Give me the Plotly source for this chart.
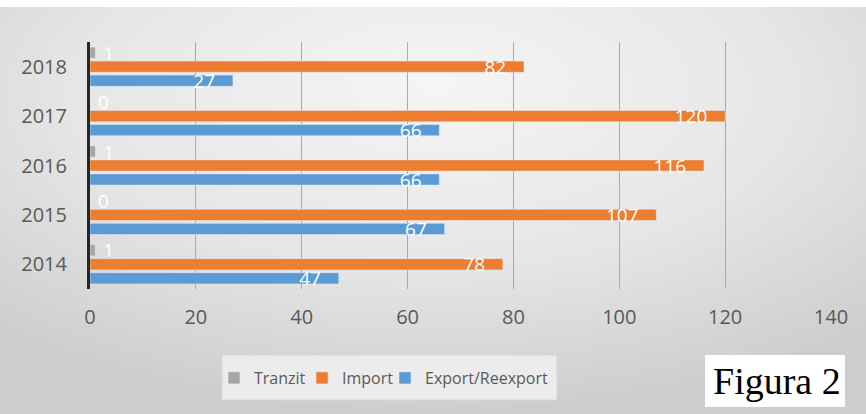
import base64
import plotly.graph_objects as go

years = ["2014", "2015", "2016", "2017", "2018"]
tranzit = [1, 0, 1, 0, 1]
import_vals = [78, 107, 116, 120, 82]
export_vals = [47, 67, 66, 66, 27]
x_ticks = [0, 20, 40, 60, 80, 100, 120, 140]

W, H = 866, 414
L, R, T, B = 90, 35, 42, 125
PW, PH = W - L - R, H - T - B


def px(x):
    return (x - L) / PW


def py(y):
    return (H - B - y) / PH


svg = f'''<svg xmlns="http://www.w3.org/2000/svg" width="{W}" height="{H}">
<defs><radialGradient id="g" cx="50%" cy="25%" r="75%" fx="50%" fy="20%">
<stop offset="0%" stop-color="#f5f5f5"/><stop offset="55%" stop-color="#e6e6e6"/>
<stop offset="100%" stop-color="#cdcdcd"/></radialGradient></defs>
<rect width="{W}" height="{H}" fill="url(#g)"/></svg>'''
src = "data:image/svg+xml;base64," + base64.b64encode(svg.encode()).decode()

lab_font = dict(family="Open Sans", size=19, color="white")
tick_font = dict(family="Open Sans", size=20, color="#595959")
leg_font = dict(family="Open Sans", size=16, color="#595959")
pad = "\u00a0\u00a0\u00a0"

fig = go.Figure()
fig.add_trace(go.Bar(
    y=years, x=export_vals, orientation="h", name="Export/Reexport",
    marker=dict(color="#5b9bd5"), texttemplate="%{x}" + pad,
    textposition="inside", insidetextanchor="end", textfont=lab_font,
    constraintext="none", textangle=0, legend="legend3",
))
fig.add_trace(go.Bar(
    y=years, x=import_vals, orientation="h", name="Import",
    marker=dict(color="#ed7d31"), texttemplate="%{x}" + pad,
    textposition="inside", insidetextanchor="end", textfont=lab_font,
    constraintext="none", textangle=0, legend="legend2",
))
fig.add_trace(go.Bar(
    y=years, x=tranzit, orientation="h", name="Tranzit",
    marker=dict(color="#a5a5a5"), texttemplate="\u00a0%{x}",
    textposition="outside", textfont=lab_font, constraintext="none",
    cliponaxis=False, textangle=0, legend="legend",
))


def leg(xpix):
    return dict(orientation="h", x=px(xpix), y=py(378), xanchor="left",
                yanchor="middle", bgcolor="rgba(0,0,0,0)", itemwidth=30,
                font=leg_font)


fig.update_layout(
    width=W, height=H,
    margin=dict(l=L, r=R, t=T, b=B),
    paper_bgcolor="#e2e2e2",
    plot_bgcolor="rgba(0,0,0,0)",
    barmode="group", bargap=0.15, bargroupgap=0.2,
    images=[dict(source=src, xref="paper", yref="paper",
                 x=px(0), y=py(0), sizex=W / PW, sizey=H / PH,
                 xanchor="left", yanchor="top", sizing="stretch", layer="below")],
    xaxis=dict(range=[0, 140], tickvals=x_ticks, showgrid=True,
               gridcolor="#aaaaaa", gridwidth=1, zeroline=False,
               showline=False, ticks="", ticklabelstandoff=14,
               tickfont=tick_font, fixedrange=True),
    yaxis=dict(showline=True, linecolor="#262626", linewidth=3,
               showgrid=False, ticks="", ticklabelstandoff=16,
               tickfont=tick_font),
    legend=leg(214),
    legend2=leg(302),
    legend3=leg(385),
    shapes=[
        dict(type="rect", xref="paper", yref="paper", x0=px(0), x1=px(W),
             y0=py(0), y1=py(7), fillcolor="white", line=dict(width=0),
             layer="below"),
        dict(type="rect", xref="paper", yref="paper", x0=px(222), x1=px(557),
             y0=py(355), y1=py(400), fillcolor="#ececec",
             line=dict(color="#d6d6d6", width=1), layer="below"),
        dict(type="rect", xref="paper", yref="paper", x0=px(705), x1=px(845),
             y0=py(355), y1=py(407), fillcolor="white", line=dict(width=0),
             layer="below"),
    ],
    annotations=[
        dict(text="Figura 2", xref="paper", yref="paper", x=px(777), y=py(381),
             xanchor="center", yanchor="middle", showarrow=False,
             font=dict(family="Liberation Serif", size=38, color="black")),
    ],
    showlegend=True,
)

fig.write_html(
    "out.html",
    config={"displayModeBar": False},
    post_script="document.body.style.margin='0';document.body.style.padding='0';",
)
